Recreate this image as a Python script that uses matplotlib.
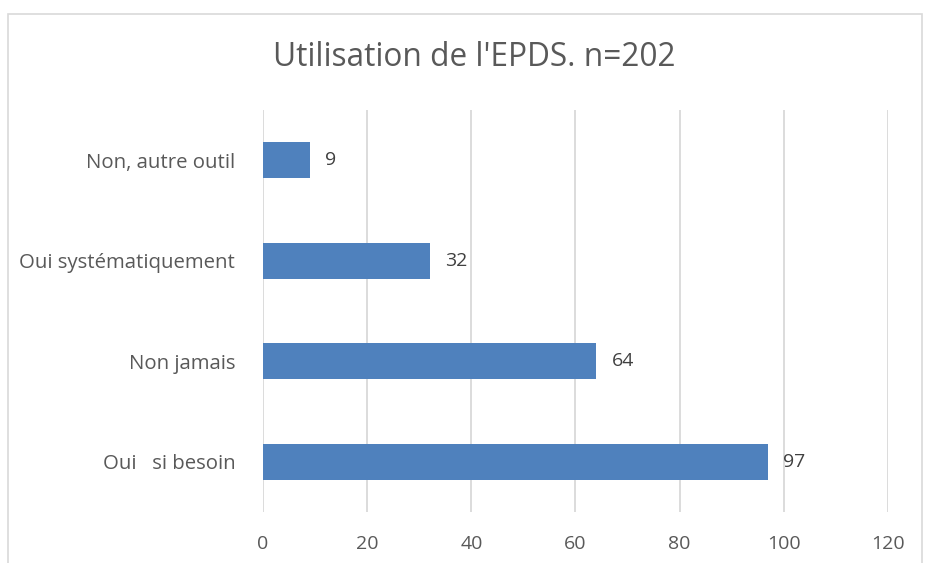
import matplotlib.pyplot as plt
from matplotlib.patches import Rectangle

categories = ["Oui   si besoin", "Non jamais", "Oui systématiquement", "Non, autre outil"]
values = [97, 64, 32, 9]
x_ticks = [0, 20, 40, 60, 80, 100, 120]

bar_color = "#4F81BD"
text_color = "#595959"
grid_color = "#D9D9D9"

plt.rcParams['font.family'] = ['Open Sans', 'DejaVu Sans']

fig = plt.figure(figsize=(9.25, 5.63), dpi=100)
ax = fig.add_axes([0.2843, 0.090, 0.9600 - 0.2843, 0.8052 - 0.090])

# chart area border
fig.patches.append(Rectangle((8 / 925, -0.05), (922 - 8) / 925, 1.05 - 14 / 563,
                             transform=fig.transFigure, fill=False,
                             edgecolor=grid_color, linewidth=1.2))

y = list(range(len(categories)))
ax.barh(y, values, height=0.36, color=bar_color, zorder=3)

for yi, v in zip(y, values):
    ax.annotate(str(v), (v, yi), xytext=(11, 0), textcoords="offset points",
                va="center", ha="left", fontsize=14, color="#404040")

ax.set_xlim(0, 120)
ax.set_ylim(-0.5, len(categories) - 0.5)
ax.set_xticks(x_ticks)
ax.set_yticks(y)
ax.set_yticklabels(categories)
ax.tick_params(axis="both", length=0, labelcolor=text_color)
ax.tick_params(axis="y", pad=20, labelsize=14.7)
ax.tick_params(axis="x", pad=16, labelsize=14)
ax.grid(axis="x", color=grid_color, linewidth=1.3, zorder=0)
for s in ax.spines.values():
    s.set_visible(False)

fig.text(0.513, 0.897, "Utilisation de l'EPDS. n=202", ha="center", va="center",
         fontsize=22.8, color=text_color)

fig.savefig("out.png", dpi=100)
